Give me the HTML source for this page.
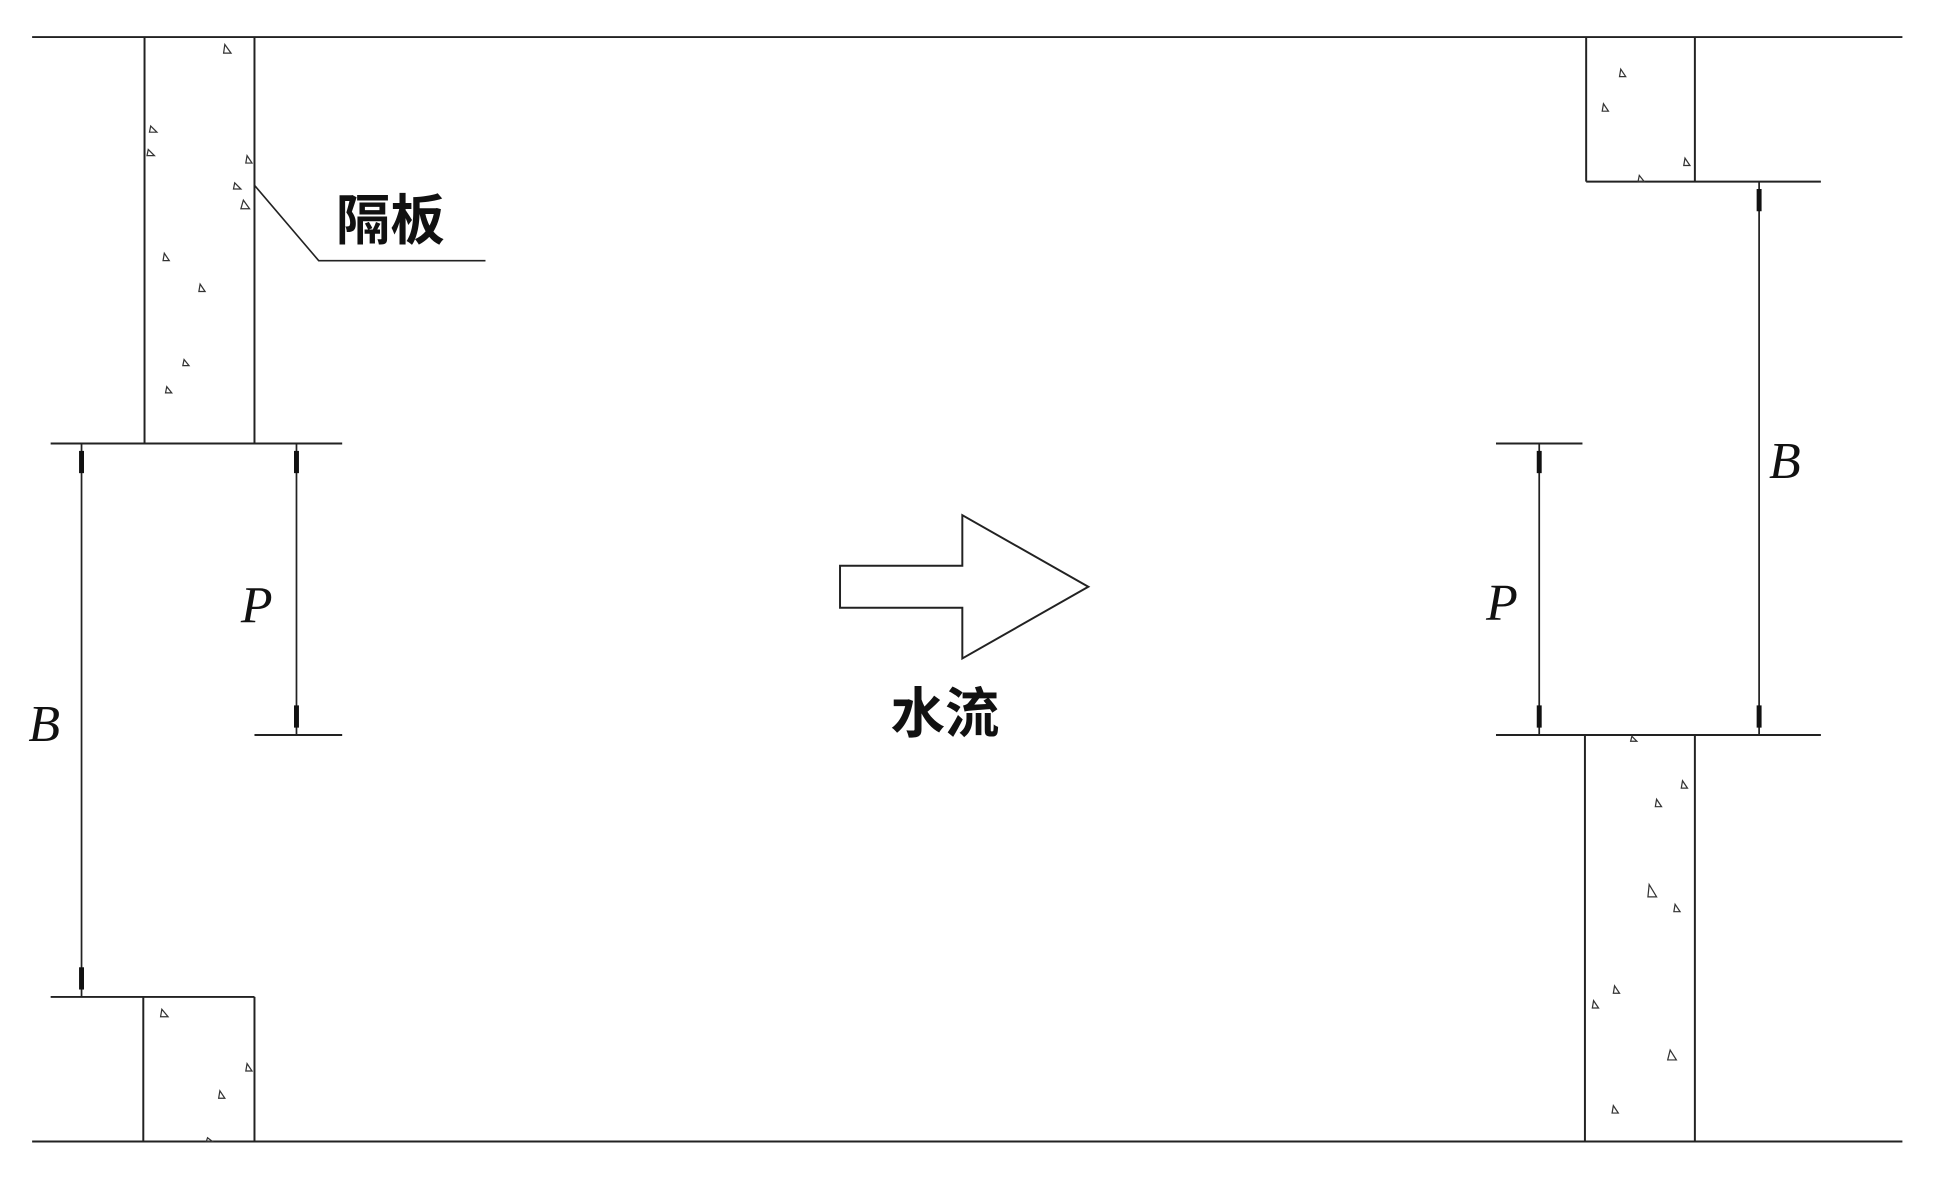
<!DOCTYPE html>
<html><head><meta charset="utf-8"><style>html,body{margin:0;padding:0;background:#fff}svg{display:block}</style></head>
<body>
<svg width="1937" height="1181" viewBox="0 0 1568 956" preserveAspectRatio="none" xmlns="http://www.w3.org/2000/svg">
<g stroke="#222" stroke-width="1.6" fill="none">
<line x1="26" y1="30" x2="1540" y2="30"/>
<line x1="26" y1="924" x2="1540" y2="924"/>
<line x1="117" y1="30" x2="117" y2="359"/>
<line x1="206" y1="30" x2="206" y2="359"/>
<line x1="41" y1="359" x2="277" y2="359"/>
<line x1="116" y1="807" x2="116" y2="924"/>
<line x1="206" y1="807" x2="206" y2="924"/>
<line x1="41" y1="807" x2="206" y2="807"/>
<line x1="66" y1="359" x2="66" y2="807" stroke-width="1.4"/>
<line x1="240" y1="359" x2="240" y2="595" stroke-width="1.4"/>
<line x1="206" y1="595" x2="277" y2="595"/>
<polyline points="206,150 258,211 393,211" stroke-width="1.3"/>
<polygon points="680,458 779,458 779,417 881,475 779,533 779,492 680,492"/>
<line x1="1284" y1="30" x2="1284" y2="147"/>
<line x1="1372" y1="30" x2="1372" y2="147"/>
<line x1="1284" y1="147" x2="1474" y2="147"/>
<line x1="1424" y1="147" x2="1424" y2="595" stroke-width="1.4"/>
<line x1="1211" y1="595" x2="1474" y2="595"/>
<line x1="1283" y1="595" x2="1283" y2="924"/>
<line x1="1372" y1="595" x2="1372" y2="924"/>
<line x1="1246" y1="359" x2="1246" y2="595" stroke-width="1.4"/>
<line x1="1211" y1="359" x2="1281" y2="359"/>
</g>
<g fill="#111">
<rect x="64" y="365" width="4" height="18"/>
<rect x="64" y="783" width="4" height="18"/>
<rect x="238" y="365" width="4" height="18"/>
<rect x="238" y="571" width="4" height="18"/>
<rect x="1244" y="365" width="4" height="18"/>
<rect x="1244" y="571" width="4" height="18"/>
<rect x="1422" y="153" width="4" height="18"/>
<rect x="1422" y="571" width="4" height="18"/>
</g>
<g stroke="#333" stroke-width="1" fill="none">
<path d="M182,36l5,7h-6z M122,102l5,5h-6z M120,121l5,5h-6z M200,126l4,6h-5z M190,148l5,5h-6z M197,162l5,7h-7z M133,205l4,6h-5z M162,230l4,6h-5z M149,291l4,5h-5z M135,313l4,5h-5z"/>
<path d="M131,817l5,6h-6z M200,861l4,6h-5z M178,883l4,6h-5z M168,921l4,3h-5z"/>
<path d="M1312,56l4,6h-5z M1298,84l4,6h-5z M1364,128l4,6h-5z M1327,142l4,5h-5z"/>
<path d="M1362,632l4,6h-5z M1341,647l4,6h-5z M1335,716l6,10h-7z M1356,732l4,6h-5z M1307,798l4,6h-5z M1290,810l4,6h-5z M1352,850l5,8h-7z M1306,895l4,6h-5z M1321,596l4,4h-5z"/>
</g>
<g font-family="Liberation Serif, serif" font-style="italic" font-size="42" fill="#111">
<text x="195" y="504">P</text>
<text x="23" y="600">B</text>
<text x="1203" y="502">P</text>
<text x="1432" y="387">B</text>
</g>
<g font-family="Liberation Sans, Noto Sans CJK SC, sans-serif" font-size="44" font-weight="bold" fill="#111">
<text x="272" y="194">隔板</text>
<text x="721" y="593">水流</text>
</g>
</svg>
</body></html>
